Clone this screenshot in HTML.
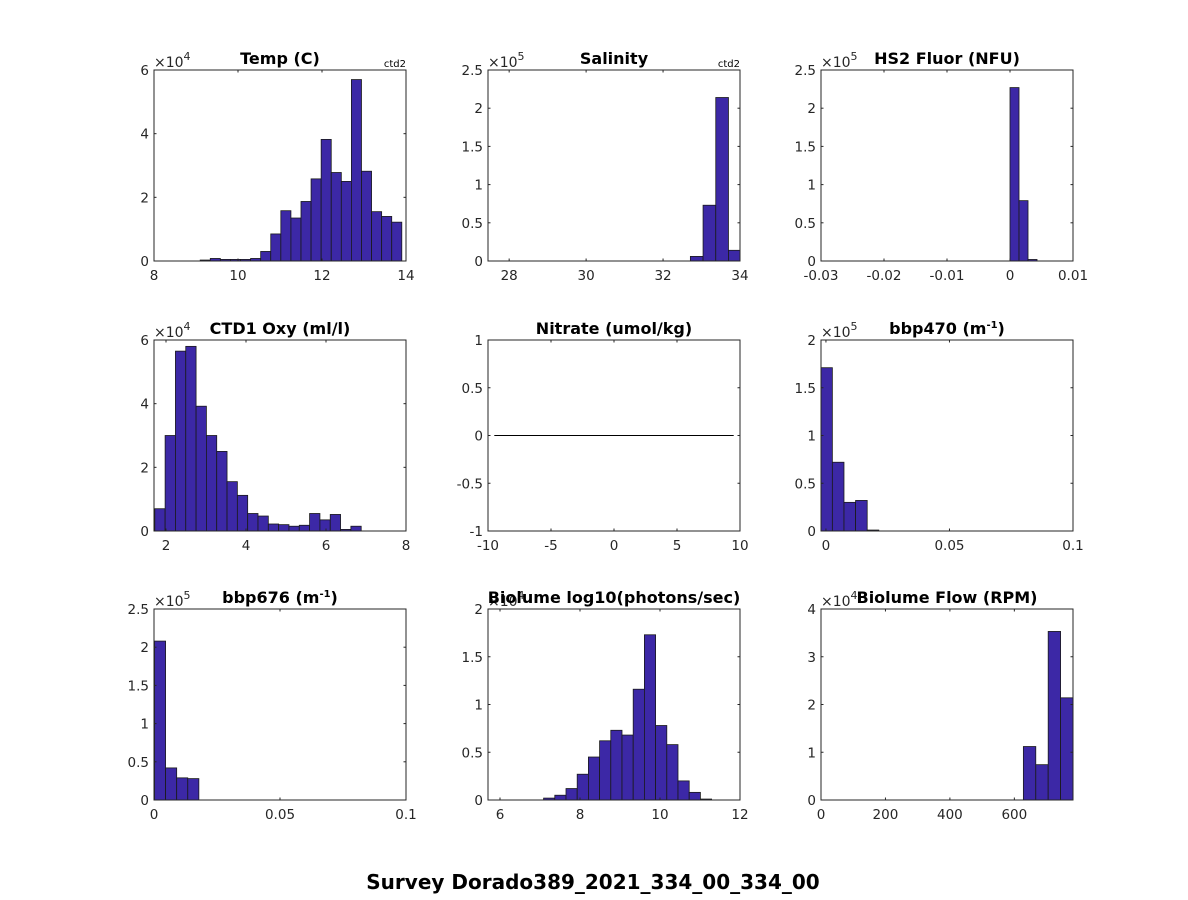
<!DOCTYPE html>
<html><head><meta charset="utf-8"><style>
body{margin:0;background:#fff;}
svg{display:block;font-family:"DejaVu Sans","Liberation Sans",sans-serif;}
</style></head><body>
<svg id="fig" width="1188" height="900" viewBox="0 0 1188 900">
<rect width="1188" height="900" fill="#fff"/>
<text x="593" y="889" text-anchor="middle" font-size="20" font-weight="bold" fill="#000">Survey Dorado389_2021_334_00_334_00</text>
</svg>
<script>
// ---- data (counts in units of the exponent multiplier) ----
const tempStart = 9.1, tempWidth = 0.24;
const tempCounts = [0.03,0.08,0.05,0.05,0.05,0.08,0.3,0.85,1.58,1.35,1.87,2.58,3.82,2.78,2.5,5.7,2.82,1.55,1.4,1.22];
const salStart = 32.71, salWidth = 0.33;
const salCounts = [0.06,0.73,2.14,0.14];
const fluorStart = 0, fluorWidth = 0.00143;
const fluorCounts = [2.27,0.79,0.02];
const oxyStart = 1.72, oxyWidth = 0.258;
const oxyCounts = [0.7,3.0,5.65,5.8,3.92,3.0,2.5,1.55,1.12,0.55,0.47,0.22,0.2,0.15,0.18,0.55,0.35,0.52,0.05,0.15];
const nitrateLineX = [-9.5, 9.5];
const nitrateLineY = [0, 0];
const b470Start = -0.0021, b470Width = 0.0047;
const b470Counts = [1.71,0.72,0.30,0.32,0.01];
const b676Start = 0.0002, b676Width = 0.0044;
const b676Counts = [2.08,0.42,0.29,0.28];
const bioStart = 7.09, bioWidth = 0.28;
const bioCounts = [0.02,0.05,0.12,0.27,0.45,0.62,0.73,0.68,1.16,1.73,0.78,0.58,0.2,0.08,0.01];
const flowStart = 628, flowWidth = 38.5;
const flowCounts = [1.12,0.74,3.53,2.14];

const tempXTicks=[8,10,12,14], tempYTicks=[0,2,4,6];
const salXTicks=[28,30,32,34], salYTicks=[0,0.5,1,1.5,2,2.5];
const fluorXTicks=[-0.03,-0.02,-0.01,0,0.01], fluorYTicks=[0,0.5,1,1.5,2,2.5];
const oxyXTicks=[2,4,6,8], oxyYTicks=[0,2,4,6];
const nitXTicks=[-10,-5,0,5,10], nitYTicks=[-1,-0.5,0,0.5,1];
const b470XTicks=[0,0.05,0.1], b470YTicks=[0,0.5,1,1.5,2];
const b676XTicks=[0,0.05,0.1], b676YTicks=[0,0.5,1,1.5,2,2.5];
const bioXTicks=[6,8,10,12], bioYTicks=[0,0.5,1,1.5,2];
const flowXTicks=[0,200,400,600], flowYTicks=[0,1,2,3,4];

const NS="http://www.w3.org/2000/svg";
const svg=document.getElementById('fig');
function mk(tag,attrs,parent){const e=document.createElementNS(NS,tag);for(const k in attrs)e.setAttribute(k,attrs[k]);(parent||svg).appendChild(e);return e;}

function panel(o){
  const g=mk('g',{});
  
  
  const L=o.x,T=o.y,W=252,H=191;
  const sx=v=>L+(v-o.xmin)/(o.xmax-o.xmin)*W;
  const sy=v=>T+H-(v-o.ymin)/(o.ymax-o.ymin)*H;
  const clip=mk('clipPath',{id:'c-'+o.name},g);
  mk('rect',{x:L,y:T,width:W,height:H},clip);
  const bg=mk('g',{'clip-path':'url(#c-'+o.name+')'},g);
  if(o.counts){
    o.counts.forEach((c,i)=>{
      const x0=sx(o.start+i*o.width),x1=sx(o.start+(i+1)*o.width);
      const r=mk('rect',{x:x0,y:sy(c),width:x1-x0,height:sy(0)-sy(c),fill:'#3c28a6',stroke:'#1a1a1a','stroke-width':0.8},bg);
      
      
    });
  }
  if(o.lineX){
    const l=mk('line',{x1:sx(o.lineX[0]),y1:sy(o.lineY[0]),x2:sx(o.lineX[1]),y2:sy(o.lineY[1]),stroke:'#000','stroke-width':1},bg);
    
    
  }
  const box=mk('rect',{x:L,y:T,width:W,height:H,fill:'none',stroke:'#262626','stroke-width':1},g);
  
  
  o.xt.forEach(v=>{
    const x=sx(v);
    mk('line',{x1:x,y1:T+H,x2:x,y2:T+H-2.5,stroke:'#262626'},g);
    mk('line',{x1:x,y1:T,x2:x,y2:T+2.5,stroke:'#262626'},g);
    const t=mk('text',{x:x,y:T+H+19,'text-anchor':'middle','font-size':13.5,fill:'#262626'},g);
    t.textContent=String(v);
    
    
  });
  o.yt.forEach(v=>{
    const y=sy(v);
    mk('line',{x1:L,y1:y,x2:L+2.5,y2:y,stroke:'#262626'},g);
    mk('line',{x1:L+W,y1:y,x2:L+W-2.5,y2:y,stroke:'#262626'},g);
    const t=mk('text',{x:L-5,y:y+5,'text-anchor':'end','font-size':13.5,fill:'#262626'},g);
    t.textContent=String(v);
    
    
  });
  if(o.exp){
    const t=mk('text',{x:L,y:T-3,'font-size':14,fill:'#262626'},g);
    t.innerHTML='×10<tspan dy="-7" font-size="11">'+o.exp+'</tspan>';
    
    
  }
  const tt=mk('text',{x:L+W/2,y:T-6,'text-anchor':'middle','font-size':16,'font-weight':'bold',fill:'#000'},g);
  tt.innerHTML=o.title;
  
  
  if(o.ctd){
    const c=mk('text',{x:L+W,y:T-3,'text-anchor':'end','font-size':10,fill:'#000'},g);
    c.textContent='ctd2';
    
    
  }
}
const C=[154,488,821], R=[70,340,609];
panel({name:'temp',x:C[0],y:R[0],xmin:8,xmax:14,ymin:0,ymax:6,start:tempStart,width:tempWidth,counts:tempCounts,xt:tempXTicks,yt:tempYTicks,exp:4,title:'Temp (C)',ctd:true});
panel({name:'salinity',x:C[1],y:R[0],xmin:27.45,xmax:34,ymin:0,ymax:2.5,start:salStart,width:salWidth,counts:salCounts,xt:salXTicks,yt:salYTicks,exp:5,title:'Salinity',ctd:true});
panel({name:'fluor',x:C[2],y:R[0],xmin:-0.03,xmax:0.01,ymin:0,ymax:2.5,start:fluorStart,width:fluorWidth,counts:fluorCounts,xt:fluorXTicks,yt:fluorYTicks,exp:5,title:'HS2 Fluor (NFU)'});
panel({name:'oxy',x:C[0],y:R[1],xmin:1.7,xmax:8,ymin:0,ymax:6,start:oxyStart,width:oxyWidth,counts:oxyCounts,xt:oxyXTicks,yt:oxyYTicks,exp:4,title:'CTD1 Oxy (ml/l)'});
panel({name:'nitrate',x:C[1],y:R[1],xmin:-10,xmax:10,ymin:-1,ymax:1,lineX:nitrateLineX,lineY:nitrateLineY,xt:nitXTicks,yt:nitYTicks,title:'Nitrate (umol/kg)'});
panel({name:'bbp470',x:C[2],y:R[1],xmin:-0.002,xmax:0.1,ymin:0,ymax:2,start:b470Start,width:b470Width,counts:b470Counts,xt:b470XTicks,yt:b470YTicks,exp:5,title:'bbp470 (m<tspan dy="-6" font-size="10">-1</tspan><tspan dy="6">)</tspan>'});
panel({name:'bbp676',x:C[0],y:R[2],xmin:0,xmax:0.1,ymin:0,ymax:2.5,start:b676Start,width:b676Width,counts:b676Counts,xt:b676XTicks,yt:b676YTicks,exp:5,title:'bbp676 (m<tspan dy="-6" font-size="10">-1</tspan><tspan dy="6">)</tspan>'});
panel({name:'biolume',x:C[1],y:R[2],xmin:5.7,xmax:12,ymin:0,ymax:2,start:bioStart,width:bioWidth,counts:bioCounts,xt:bioXTicks,yt:bioYTicks,exp:4,title:'Biolume log10(photons/sec)'});
panel({name:'flow',x:C[2],y:R[2],xmin:0,xmax:782,ymin:0,ymax:4,start:flowStart,width:flowWidth,counts:flowCounts,xt:flowXTicks,yt:flowYTicks,exp:4,title:'Biolume Flow (RPM)'});
</script>
</body></html>
